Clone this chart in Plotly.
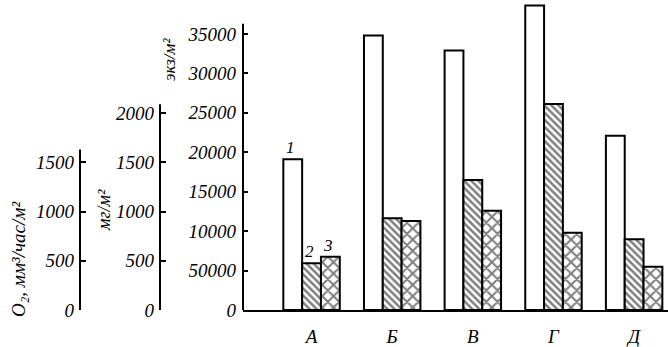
import plotly.graph_objects as go

W, H = 668, 347

categories = ["А", "Б", "В", "Г", "Д"]
density = [19100, 34800, 32900, 38600, 22100]      # 1: экз/м²
biomass = [475, 932, 1320, 2093, 718]              # 2: мг/м²
oxygen = [542, 904, 1009, 786, 440]                # 3: O2, мм³/час/м²
bar_labels = ["1", "2", "3"]

main_tickvals = [0, 5000, 10000, 15000, 20000, 25000, 30000, 35000]
main_ticktext = ["0", "50000", "10000", "15000", "20000", "25000", "30000", "35000"]
mg_tickvals = [0, 500, 1000, 1500, 2000]
o2_tickvals = [0, 500, 1000, 1500]

FONT = "Liberation Serif"
tickfont = dict(family=FONT, size=19, color="black", style="italic")

x0 = 243 / W
pos_mg = 160 / W
pos_o2 = 80 / W

line = dict(color="black", width=2)
label_font = dict(family=FONT, size=17, color="black", style="italic")

fig = go.Figure()
fig.add_trace(go.Bar(
    x=categories, y=density, yaxis="y", offsetgroup="1",
    marker=dict(color="white", line=line),
))
fig.add_trace(go.Bar(
    x=categories, y=biomass, yaxis="y2", offsetgroup="2",
    marker=dict(color="white", line=line,
                pattern=dict(shape="\\", fgcolor="black", bgcolor="white", size=5, solidity=0.5)),
))
fig.add_trace(go.Bar(
    x=categories, y=oxygen, yaxis="y3", offsetgroup="3",
    marker=dict(color="white", line=line,
                pattern=dict(shape="x", fgcolor="black", bgcolor="white", size=8, solidity=0.45)),
))

common_y = dict(showgrid=False, zeroline=False, showline=False, ticks="inside",
                ticklen=5, tickwidth=1.5, tickcolor="black", tickfont=tickfont,
                ticklabelstandoff=6, automargin=False)

# bar number labels over the first group
bar_w = 80.6 * 0.7 / 3
label_ann = []
for i, (yref, vals) in enumerate([("y", density), ("y2", biomass), ("y3", oxygen)]):
    label_ann.append(dict(text=bar_labels[i], x=categories[0], y=vals[0], xref="x", yref=yref,
                          xanchor="center", yanchor="bottom", showarrow=False,
                          xshift=(i - 1) * bar_w - 2, yshift=0, font=label_font))

title_font = dict(family=FONT, size=17, color="black", style="italic")
fig.update_layout(
    width=W, height=H,
    margin=dict(l=0, r=0, t=2, b=37),
    paper_bgcolor="white", plot_bgcolor="white",
    showlegend=False,
    barmode="group", bargap=0.3, bargroupgap=0,
    xaxis=dict(domain=[x0, 1], range=[-0.85, 4.42], showline=True, linecolor="black",
               linewidth=2, ticks="", showgrid=False, zeroline=False,
               tickfont=dict(family=FONT, size=19, color="black", style="italic"),
               ticklabelstandoff=8, automargin=False),
    yaxis=dict(range=[0, 39050], tickvals=main_tickvals, ticktext=main_ticktext, **common_y),
    yaxis2=dict(range=[0, 3130], tickvals=mg_tickvals, overlaying="y", anchor="free",
                position=pos_mg, side="left", **common_y),
    yaxis3=dict(range=[0, 3130], tickvals=o2_tickvals, overlaying="y", anchor="free",
                position=pos_o2, side="left", **common_y),
    shapes=[
        dict(type="line", xref="paper", yref="y", x0=x0, x1=x0, y0=0, y1=36300, line=line),
        dict(type="line", xref="paper", yref="y2", x0=pos_mg, x1=pos_mg, y0=0, y1=2090, line=line),
        dict(type="line", xref="paper", yref="y3", x0=pos_o2, x1=pos_o2, y0=0, y1=1630, line=line),
    ],
    annotations=[
        dict(text="экз/м²", x=169 / W, y=(310 - 60) / 308, xref="paper", yref="paper",
             xanchor="center", yanchor="middle", showarrow=False, textangle=-90,
             font=dict(family=FONT, size=17, color="black", style="italic")),
        dict(text="мг/м²", x=104 / W, y=(310 - 210) / 308, xref="paper", yref="paper",
             xanchor="center", yanchor="middle", showarrow=False, textangle=-90,
             font=dict(family=FONT, size=18, color="black", style="italic")),
        dict(text="O₂, мм³/час/м²", x=18 / W, y=(310 - 260) / 308,
             xref="paper", yref="paper", xanchor="center", yanchor="middle",
             showarrow=False, textangle=-90,
             font=dict(family=FONT, size=19, color="black", style="italic")),
    ] + label_ann,
)

fig.write_html("out.html")
